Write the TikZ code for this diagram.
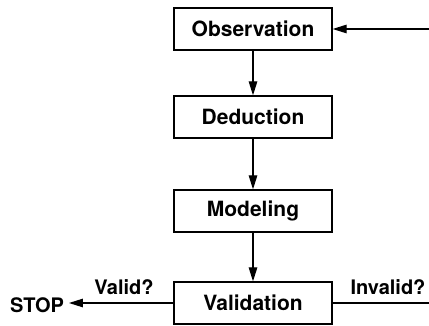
\documentclass[tikz,border=0pt]{standalone}
\usepackage{fontspec}
\setmainfont{TeX Gyre Heros}
\usetikzlibrary{arrows.meta}
\begin{document}
\begin{tikzpicture}[x=1pt,y=-1pt,
  stepbox/.style={draw,line width=1.3pt,minimum width=158pt,minimum height=42pt,inner sep=0pt,font=\fontsize{21}{24}\selectfont\bfseries},
  lbl/.style={inner sep=0pt,font=\fontsize{20}{24}\selectfont\bfseries},
  conn/.style={line width=1.2pt,-{Triangle[length=14pt,width=8.5pt]}},
  plain/.style={line width=1.2pt}]
\useasboundingbox (0,0) rectangle (429,326);
\node[stepbox] (obs) at (253,29) {Observation};
\node[stepbox] (ded) at (253,117) {Deduction};
\node[stepbox] (mod) at (253,211) {Modeling};
\node[stepbox] (val) at (253,303) {Validation};
\node[lbl,anchor=west,outer sep=5pt] (stop) at (5,305) {STOP};
\node[lbl] (valid) at (124,287) {Valid?};
\node[lbl] (invalid) at (388,287) {Invalid?};
\coordinate (rin) at (429,303);
\coordinate (rout) at (429,29);
\draw[conn] (obs) -- (ded);
\draw[conn] (ded) -- (mod);
\draw[conn] (mod) -- (val);
\draw[conn] (val.west) -- (val.west -| stop.east);
\draw[plain] (val.east) -- (rin);
\draw[conn] (rout) -- (obs.east);
\end{tikzpicture}
\end{document}
